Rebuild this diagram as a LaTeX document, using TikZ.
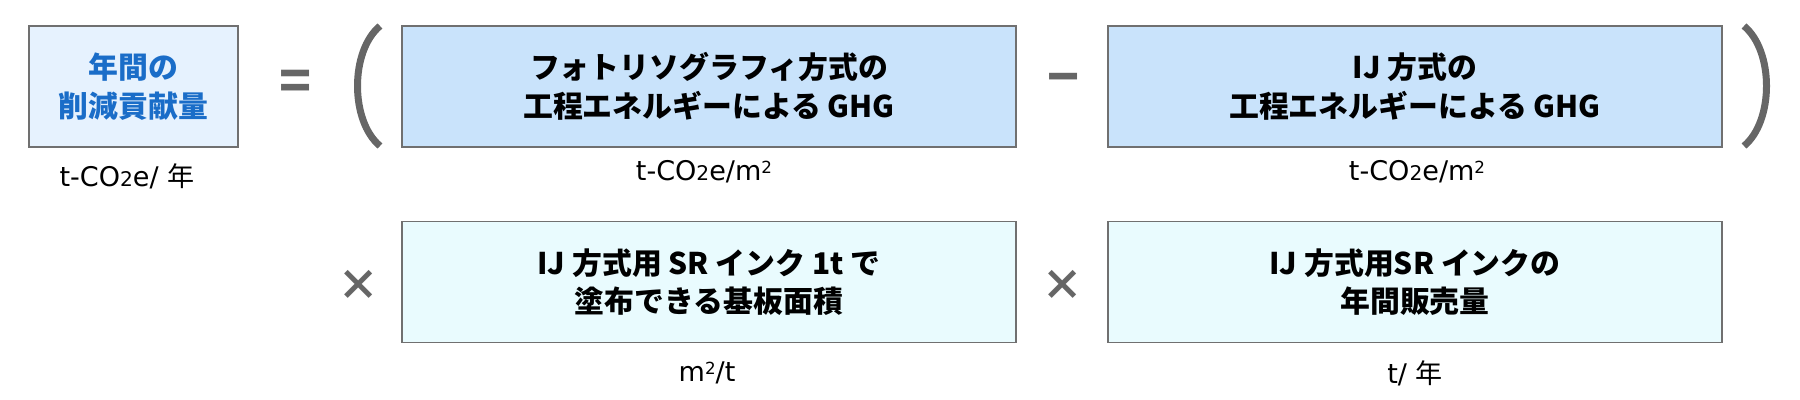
\documentclass[tikz,border=0pt]{standalone}
\usepackage{fontspec}
\setmainfont{Noto Sans CJK JP}
\newfontfamily\jpfont{Noto Sans CJK JP}
\newfontfamily\unitfont{DejaVu Sans}
\definecolor{boxline}{HTML}{707070}
\definecolor{opgray}{HTML}{666666}
\definecolor{resultfill}{HTML}{E6F2FE}
\definecolor{resulttext}{HTML}{1A6DC8}
\definecolor{ghgfill}{HTML}{C9E3FB}
\definecolor{inkfill}{HTML}{E9FBFE}
\newcommand{\lowtwo}{{\fontsize{11.5}{11.5}\selectfont 2}}
\newcommand{\hightwo}{\raisebox{4.3pt}{\fontsize{9.5}{9.5}\selectfont 2}}
\newcommand{\nen}{{\jpfont 年}}
\tikzset{
  termbox/.style={draw=boxline, line width=0.03cm, minimum width=12.28cm,
    minimum height=2.42cm, align=center, inner sep=0pt,
    font=\fontsize{17}{22}\selectfont\bfseries},
  unitlabel/.style={font=\unitfont\fontsize{15.4}{18}\selectfont},
  opsign/.style={text=opgray, font=\fontsize{30}{30}\selectfont\bfseries},
  paren/.style={draw=opgray, line width=0.14cm},
}
\begin{document}
\begin{tikzpicture}
                \useasboundingbox (0,0) rectangle (36,8);

                % Drawing result box
                \node [termbox, minimum width=4.18cm, fill=resultfill, text=resulttext] (result) at (2.670000,6.270000) {年間の\\削減貢献量};%
                \node [unitlabel] (resultunit) at (2.540000,4.480000) {t-CO\lowtwo e/ \nen};%

                % Drawing equal sign and brackets
                \node [opsign] (eq) at (5.920000,6.300000) {=};%
                \draw [paren] (7.600000,7.480000) .. controls (7.000000,6.980000) and (7.000000,5.580000) .. (7.600000,5.080000);%
                \draw [paren] (34.880000,7.480000) .. controls (35.480000,6.980000) and (35.480000,5.580000) .. (34.880000,5.080000);%

                % Drawing GHG boxes
                \node [termbox, fill=ghgfill] (photo) at (14.180000,6.270000) {フォトリソグラフィ方式の\\工程エネルギーによる GHG};%
                \node [unitlabel] (photounit) at (14.080000,4.560000) {t-CO\lowtwo e/m\hightwo};%
                \node [opsign] (minus) at (21.280000,6.300000) {−};%
                \node [termbox, fill=ghgfill] (ij) at (28.300000,6.270000) {IJ 方式の\\工程エネルギーによる GHG};%
                \node [unitlabel] (ijunit) at (28.340000,4.560000) {t-CO\lowtwo e/m\hightwo};%

                % Drawing ink boxes
                \node [opsign, font=\fontsize{24}{24}\selectfont\bfseries] (times1) at (7.180000,2.300000) {×};%
                \node [termbox, fill=inkfill] (area) at (14.180000,2.360000) {IJ 方式用 SR インク 1t で\\塗布できる基板面積};%
                \node [unitlabel] (areaunit) at (14.140000,0.540000) {m\hightwo/t};%
                \node [opsign, font=\fontsize{24}{24}\selectfont\bfseries] (times2) at (21.260000,2.300000) {×};%
                \node [termbox, fill=inkfill] (sales) at (28.300000,2.360000) {IJ 方式用SR インクの\\年間販売量};%
                \node [unitlabel] (salesunit) at (28.300000,0.540000) {t/ \nen};%
\end{tikzpicture}
\end{document}
